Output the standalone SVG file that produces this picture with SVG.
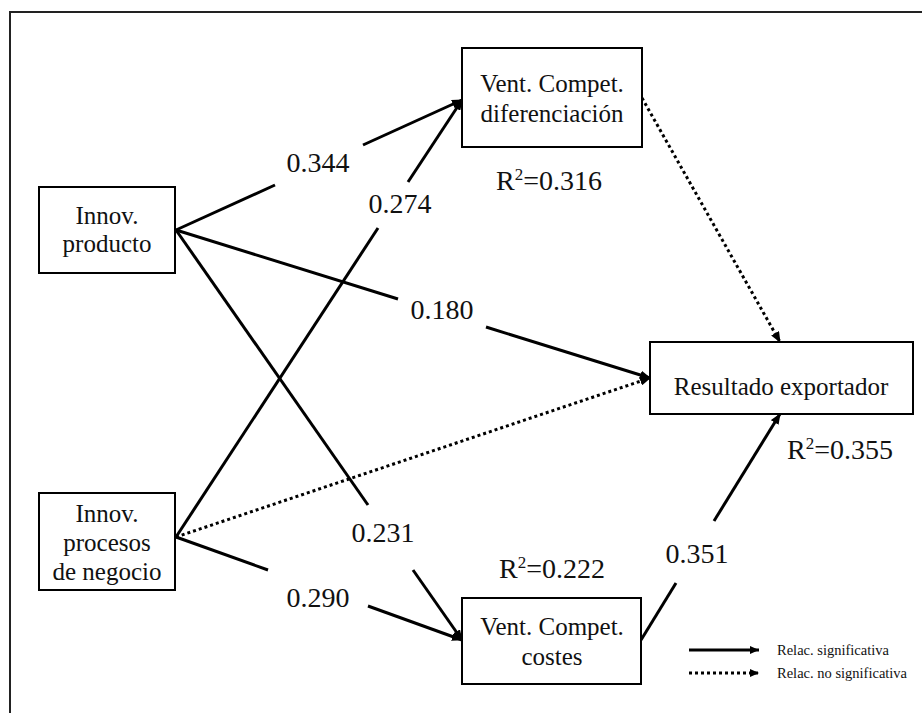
<svg xmlns="http://www.w3.org/2000/svg" width="922" height="713" viewBox="0 0 922 713">
  <defs>
    <marker id="head" markerUnits="userSpaceOnUse" markerWidth="11" markerHeight="9" refX="10" refY="4.5" orient="auto">
      <path d="M0,0 L11,4.5 L0,9 z" fill="#000"/>
    </marker>
    <marker id="headSmall" markerUnits="userSpaceOnUse" markerWidth="9" markerHeight="8" refX="9" refY="4" orient="auto">
      <path d="M0,0 L9,4 L0,8 z" fill="#000"/>
    </marker>
  </defs>
  <style>
    .box { fill: #fff; stroke: #000; stroke-width: 2; }
    .frame { fill: none; stroke: #222; stroke-width: 2; }
    .node-text { font-size: 25px; fill: #111; text-anchor: middle; }
    .coef { font-size: 28px; fill: #111; text-anchor: middle; }
    .legend-text { font-size: 14.5px; fill: #111; }
    .sig { fill: none; stroke: #000; stroke-width: 3; }
    .nosig { fill: none; stroke: #000; stroke-width: 3; stroke-dasharray: 3 3; }
  </style>

  <rect width="922" height="713" fill="#fff"/>

  <!-- outer frame (top and left edges) -->
  <path class="frame" d="M10,713 L10,12 L922,12"/>

  <!-- connectors -->
  <g id="connectors">
    <!-- Innov. producto -> diferenciación (0.344) -->
    <line class="sig" x1="176" y1="230" x2="275" y2="185"/>
    <line class="sig" x1="363" y1="145" x2="462" y2="100" marker-end="url(#head)"/>
    <!-- Innov. procesos -> diferenciación (0.274) -->
    <line class="sig" x1="176" y1="537" x2="378" y2="228"/>
    <line class="sig" x1="408" y1="182" x2="462" y2="100" marker-end="url(#head)"/>
    <!-- Innov. producto -> Resultado (0.180) -->
    <line class="sig" x1="176" y1="230" x2="398" y2="299"/>
    <line class="sig" x1="486" y1="327" x2="650" y2="378" marker-end="url(#head)"/>
    <!-- Innov. producto -> costes (0.231) -->
    <line class="sig" x1="176" y1="230" x2="368" y2="505"/>
    <line class="sig" x1="413" y1="570" x2="462" y2="640" marker-end="url(#head)"/>
    <!-- Innov. procesos -> costes (0.290) -->
    <line class="sig" x1="176" y1="537" x2="268" y2="570"/>
    <line class="sig" x1="368" y1="606" x2="462" y2="640" marker-end="url(#head)"/>
    <!-- costes -> Resultado (0.351) -->
    <line class="sig" x1="641" y1="640" x2="676" y2="583"/>
    <line class="sig" x1="714" y1="521" x2="780" y2="414" marker-end="url(#head)"/>
    <!-- non-significant paths -->
    <line class="nosig" x1="176" y1="537" x2="650" y2="378" marker-end="url(#head)"/>
    <line class="nosig" x1="642" y1="98" x2="780" y2="342" marker-end="url(#head)"/>
  </g>

  <g font-family="'Liberation Serif', 'Times New Roman', 'DejaVu Serif', serif">
    <!-- path coefficients -->
    <g id="coefficients">
      <text class="coef" x="318" y="172">0.344</text>
      <text class="coef" x="400" y="213">0.274</text>
      <text class="coef" x="442" y="319">0.180</text>
      <text class="coef" x="383" y="542">0.231</text>
      <text class="coef" x="318" y="607">0.290</text>
      <text class="coef" x="697" y="563">0.351</text>
    </g>

    <!-- nodes -->
    <g id="innov-producto">
      <rect class="box" x="39" y="187" width="136" height="86"/>
      <text class="node-text" x="107" y="224">Innov.</text>
      <text class="node-text" x="107" y="252">producto</text>
    </g>

    <g id="innov-procesos">
      <rect class="box" x="39" y="493" width="136" height="97"/>
      <text class="node-text" x="107" y="522">Innov.</text>
      <text class="node-text" x="107" y="551">procesos</text>
      <text class="node-text" x="107" y="580">de negocio</text>
    </g>

    <g id="vc-diferenciacion">
      <rect class="box" x="462" y="48" width="180" height="99"/>
      <text class="node-text" x="552" y="92">Vent. Compet.</text>
      <text class="node-text" x="552" y="122">diferenciación</text>
      <text class="coef" x="549" y="190">R<tspan font-size="17" dy="-10">2</tspan><tspan dy="10">=0.316</tspan></text>
    </g>

    <g id="vc-costes">
      <rect class="box" x="462" y="598" width="179" height="86"/>
      <text class="node-text" x="552" y="635">Vent. Compet.</text>
      <text class="node-text" x="552" y="665">costes</text>
      <text class="coef" x="552" y="578">R<tspan font-size="17" dy="-10">2</tspan><tspan dy="10">=0.222</tspan></text>
    </g>

    <g id="resultado-exportador">
      <rect class="box" x="650" y="342" width="263" height="72"/>
      <text class="node-text" x="781" y="395">Resultado exportador</text>
      <text class="coef" x="840" y="459">R<tspan font-size="17" dy="-10">2</tspan><tspan dy="10">=0.355</tspan></text>
    </g>

    <!-- legend -->
    <g id="legend">
      <line class="sig" x1="689" y1="650" x2="759" y2="650" stroke-width="2.5" marker-end="url(#headSmall)"/>
      <text class="legend-text" x="777" y="655">Relac. significativa</text>
      <line class="nosig" x1="689" y1="673" x2="759" y2="673" stroke-width="2.5" marker-end="url(#headSmall)"/>
      <text class="legend-text" x="777" y="678">Relac. no significativa</text>
    </g>
  </g>
</svg>
